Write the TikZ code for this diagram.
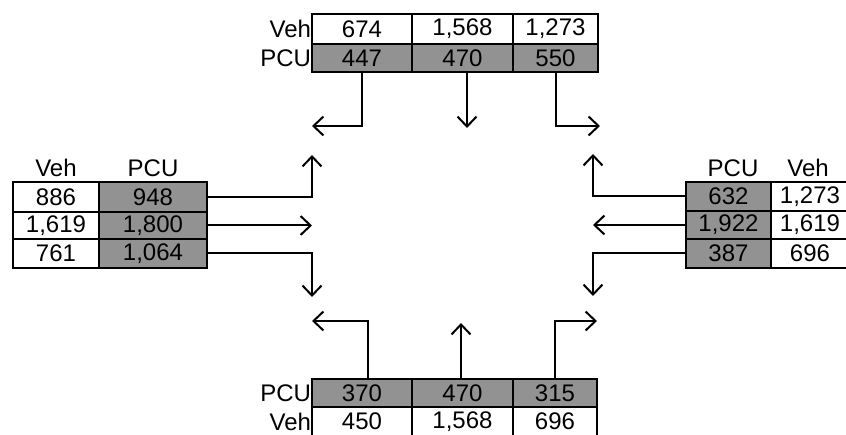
\documentclass[tikz,border=0pt]{standalone}
\usepackage{fontspec}
\setmainfont{Liberation Sans}
\usetikzlibrary{arrows.meta}
\definecolor{cellgray}{RGB}{146,146,146}
\begin{document}
\begin{tikzpicture}[x=1pt,y=-1pt,
  every node/.style={font=\fontsize{24}{24}\selectfont, inner sep=0pt, outer sep=0pt},
  cellbase/.style={draw=black, line width=1.8pt, minimum height=#1},
  wcell/.style={cellbase=#1, fill=white},
  gcell/.style={cellbase=#1, fill=cellgray},
  arr/.style={draw=black, line width=2pt, -{Straight Barb[length=10pt,width=19pt,line width=2pt]}}]
\useasboundingbox (0,0) rectangle (846,435);
% ---------- top table ----------
\node[wcell=30pt, minimum width=100pt] (tv1) at (362,29) {674};
\node[wcell=30pt, minimum width=101pt] (tv2) at (462.5,29) {1,568};
\node[wcell=30pt, minimum width=85pt] (tv3) at (555.5,29) {1,273};
\node[gcell=28pt, minimum width=100pt] (tp1) at (362,58) {447};
\node[gcell=28pt, minimum width=101pt] (tp2) at (462.5,58) {470};
\node[gcell=28pt, minimum width=85pt] (tp3) at (555.5,58) {550};
\node[anchor=east] (tvl) at (311,29) {Veh};
\node[anchor=east] (tpl) at (311,58) {PCU};
% ---------- left table ----------
\node (lvh) at (56,168) {Veh};
\node (lph) at (153,168) {PCU};
\node[wcell=30pt, minimum width=86pt] (lv1) at (56,197) {886};
\node[wcell=27pt, minimum width=86pt] (lv2) at (56,225.5) {1,619};
\node[wcell=29pt, minimum width=86pt] (lv3) at (56,253.5) {761};
\node[gcell=30pt, minimum width=108pt] (lp1) at (153,197) {948};
\node[gcell=27pt, minimum width=108pt] (lp2) at (153,225.5) {1,800};
\node[gcell=29pt, minimum width=108pt] (lp3) at (153,253.5) {1,064};
% ---------- right table ----------
\node (rph) at (733,168) {PCU};
\node (rvh) at (808,168) {Veh};
\node[gcell=29pt, minimum width=85pt] (rp1) at (728.5,196.5) {632};
\node[gcell=28pt, minimum width=85pt] (rp2) at (728.5,225) {1,922};
\node[gcell=29pt, minimum width=85pt] (rp3) at (728.5,253.5) {387};
\node[wcell=29pt, minimum width=78pt] (rv1) at (810,196.5) {1,273};
\node[wcell=28pt, minimum width=78pt] (rv2) at (810,225) {1,619};
\node[wcell=29pt, minimum width=78pt] (rv3) at (810,253.5) {696};
% ---------- bottom table ----------
\node[gcell=28pt, minimum width=100pt] (bp1) at (362,393) {370};
\node[gcell=28pt, minimum width=101pt] (bp2) at (462.5,393) {470};
\node[gcell=28pt, minimum width=84pt] (bp3) at (555,393) {315};
\node[wcell=29pt, minimum width=100pt] (bv1) at (362,421.5) {450};
\node[wcell=29pt, minimum width=101pt] (bv2) at (462.5,421.5) {1,568};
\node[wcell=29pt, minimum width=84pt] (bv3) at (555,421.5) {696};
\node[anchor=east] (bpl) at (311,393) {PCU};
\node[anchor=east] (bvl) at (311,421.5) {Veh};
% ---------- arrow ends ----------
\coordinate (tl) at (312,126);
\coordinate (tm) at (467,128);
\coordinate (tr) at (600,126);
\coordinate (lu) at (312,155);
\coordinate (lm) at (312,225.5);
\coordinate (ld) at (312,297);
\coordinate (ru) at (593,154);
\coordinate (rm) at (593,225);
\coordinate (rd) at (593,296);
\coordinate (bl) at (312,321);
\coordinate (bm) at (461,323);
\coordinate (br) at (597,321);
% ---------- arrows ----------
\draw[arr] (tp1.south) |- (tl);
\draw[arr] (tm |- tp2.south) -- (tm);
\draw[arr] (tp3.south) |- (tr);
\draw[arr] (lp1.east) -| (lu);
\draw[arr] (lp2.east) -- (lm);
\draw[arr] (lp3.east) -| (ld);
\draw[arr] (rp1.west) -| (ru);
\draw[arr] (rp2.west) -- (rm);
\draw[arr] (rp3.west) -| (rd);
\draw[arr] ([xshift=6pt]bp1.north) |- (bl);
\draw[arr] (bm |- bp2.north) -- (bm);
\draw[arr] (bp3.north) |- (br);
\end{tikzpicture}
\end{document}
